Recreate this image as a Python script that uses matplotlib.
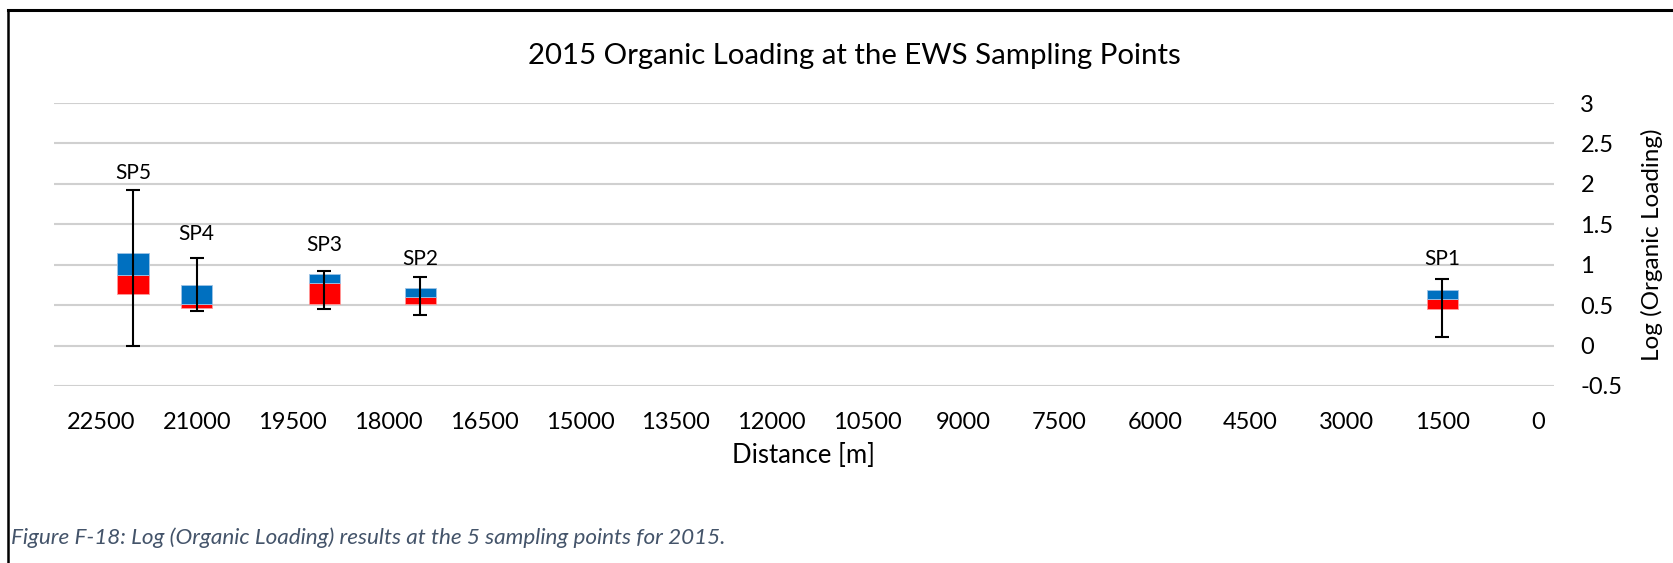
import numpy as np
import matplotlib
matplotlib.use("Agg")
import matplotlib.pyplot as plt
from matplotlib.lines import Line2D

plt.rcParams['font.family'] = ['Lato', 'DejaVu Sans']

# sampling points, distance along the EWS [m]
points = ["SP5", "SP4", "SP3", "SP2", "SP1"]
distance = [22000, 21000, 19000, 17500, 1500]

# Log (Organic Loading) summary per point
low = [0.00, 0.43, 0.45, 0.38, 0.11]
q1 = [0.64, 0.47, 0.51, 0.52, 0.45]
median = [0.87, 0.52, 0.77, 0.60, 0.57]
q3 = [1.15, 0.75, 0.88, 0.71, 0.69]
high = [1.93, 1.08, 0.92, 0.85, 0.82]

xticks = list(range(0, 22501, 1500))
yticks = [-0.5, 0, 0.5, 1, 1.5, 2, 2.5, 3]

W, H = 1674, 563
fig = plt.figure(figsize=(W / 100, H / 100), dpi=100)
fig.patch.set_facecolor("white")

# plot area in pixels
left, right, top, bottom = 54, 1554, 103, 386
ax = fig.add_axes([left / W, 1 - bottom / H, (right - left) / W, (bottom - top) / H])

x = np.array(distance)
lo, a, m, b, hi = map(np.array, (low, q1, median, q3, high))
ax.bar(x, m - a, bottom=a, width=490, color="#FF0000", edgecolor="#ff9999", linewidth=0.6, zorder=2)
ax.bar(x, b - m, bottom=m, width=490, color="#0070C0", edgecolor="#9dc3e6", linewidth=0.6, zorder=2)
ax.errorbar(x, m, yerr=[m - lo, hi - m], fmt="none", ecolor="black", elinewidth=1.5,
            capsize=4.7, capthick=1.5, zorder=3)

# point names sit just above the upper whisker
label_gap = [12, 17.5, 18.5, 13, 14.5]
for xi, yi, name, g in zip(x, hi, points, label_gap):
    ax.annotate(name, (xi, yi), xytext=(0, g), textcoords="offset points",
                ha="center", va="center", fontsize=15, color="black")

ax.set_xlim(23235, -250)
ax.set_ylim(-0.5, 3)
ax.set_xticks(xticks)
ax.set_xticklabels([str(t) for t in xticks])
ax.set_yticks(yticks)
ax.set_yticklabels(["-0.5", "0", "0.5", "1", "1.5", "2", "2.5", "3"])
ax.yaxis.tick_right()
ax.yaxis.set_label_position("right")
ax.tick_params(axis="both", length=0, labelsize=17)
ax.tick_params(axis="x", pad=19)
ax.tick_params(axis="y", pad=19)
for lbl in ax.get_yticklabels():
    lbl.set_horizontalalignment("left")
ax.grid(axis="y", color="#d0d0d0", linewidth=1.5)
ax.set_axisbelow(True)
for s in ax.spines.values():
    s.set_visible(False)

ax.set_xlabel("Distance [m]", fontsize=18.5, labelpad=7)
ax.set_ylabel("Log (Organic Loading)", fontsize=17.5, labelpad=13)

fig.text(854 / W, 1 - 56 / H, "2015 Organic Loading at the EWS Sampling Points",
         ha="center", va="center", fontsize=21.2)

# frame lines around the chart object
fig.add_artist(Line2D([8 / W, 1], [1 - 10 / H, 1 - 10 / H], color="black", linewidth=2.2))
fig.add_artist(Line2D([8 / W, 8 / W], [0, 1 - 10 / H], color="black", linewidth=1.8))

fig.text(11 / W, 1 - 538 / H,
         "Figure F-18: Log (Organic Loading) results at the 5 sampling points for 2015.",
         ha="left", va="center", fontsize=16.2, style="italic", color="#44546A")

fig.savefig("out.png", dpi=100)
